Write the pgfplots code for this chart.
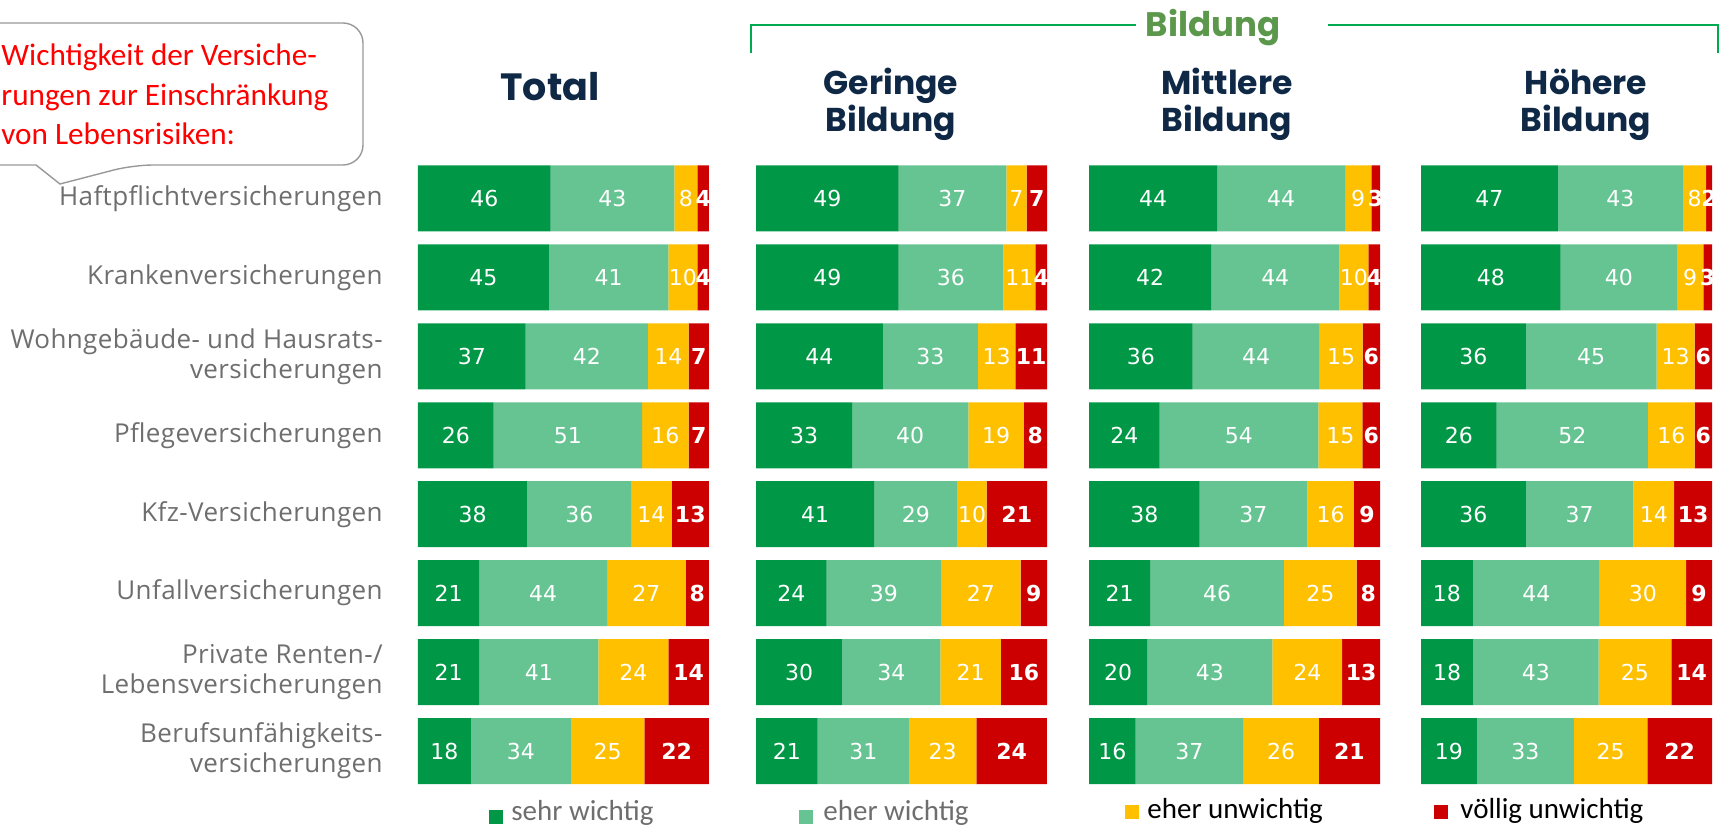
\documentclass[border=0pt]{standalone}
\usepackage{pgfplots}
\pgfplotsset{compat=1.18}
\usepackage{pgfplotstable}
\usepackage{fontspec}
\setmainfont{Open Sans}[LetterSpace=1.5]
\newfontfamily\numfont{DejaVu Sans}
\newfontfamily\titlefont{Poppins}
\newfontfamily\calfont{Carlito}
\definecolor{cA}{RGB}{0,152,70}
\definecolor{cB}{RGB}{102,196,146}
\definecolor{cC}{RGB}{255,192,0}
\definecolor{cD}{RGB}{204,0,0}
\definecolor{navy}{RGB}{14,40,70}
\definecolor{olive}{RGB}{92,152,76}
\definecolor{brk}{RGB}{0,170,80}
\definecolor{lbl}{RGB}{110,110,110}

\pgfplotstableread{
row a b c d
1 46 43 8 4
2 45 41 10 4
3 37 42 14 7
4 26 51 16 7
5 38 36 14 13
6 21 44 27 8
7 21 41 24 14
8 18 34 25 22
}\tTotal
\pgfplotstableread{
row a b c d
1 49 37 7 7
2 49 36 11 4
3 44 33 13 11
4 33 40 19 8
5 41 29 10 21
6 24 39 27 9
7 30 34 21 16
8 21 31 23 24
}\tGer
\pgfplotstableread{
row a b c d
1 44 44 9 3
2 42 44 10 4
3 36 44 15 6
4 24 54 15 6
5 38 37 16 9
6 21 46 25 8
7 20 43 24 13
8 16 37 26 21
}\tMit
\pgfplotstableread{
row a b c d
1 47 43 8 2
2 48 40 9 3
3 36 45 13 6
4 26 52 16 6
5 36 37 14 13
6 18 44 30 9
7 18 43 25 14
8 19 33 25 22
}\tHoe

\pgfplotsset{
  geom/.style={
    scale only axis, width=145.5pt, height=315.75pt,
    xmin=0, xmax=100, ymin=0.5, ymax=8.5, y dir=reverse,
    axis line style={draw=none},
    xtick=\empty, ytick=\empty, tick style={draw=none},
    anchor=south west,
  },
  panel/.style={geom, xbar stacked, bar width=33pt},
  lblaxis/.style={geom, clip=false,
    /pgf/number format/assume math mode=true},
  lbl/.style={draw=none, mark=none, nodes near coords, point meta=explicit,
    nodes near coords style={font=\numfont\fontsize{11}{13}\selectfont,
      text=white, anchor=center, inner sep=0pt}},
  lblbold/.style={lbl,
    nodes near coords style={font=\numfont\bfseries\fontsize{11}{13}\selectfont}},
}
% share of each answer in the row total (rows sum to 99-101 through rounding)
\newcommand\tot{(\thisrow{a}+\thisrow{b}+\thisrow{c}+\thisrow{d})}
\newcommand\bars[1]{%
  \addplot[fill=cA, draw=none] table[x expr={100*\thisrow{a}/\tot}, y=row]{#1};
  \addplot[fill=cB, draw=none] table[x expr={100*\thisrow{b}/\tot}, y=row]{#1};
  \addplot[fill=cC, draw=none] table[x expr={100*\thisrow{c}/\tot}, y=row]{#1};
  \addplot[fill=cD, draw=none] table[x expr={100*\thisrow{d}/\tot}, y=row]{#1};}
\newcommand\labels[1]{%
  \addplot[lbl] table[x expr={100*(\thisrow{a}/2)/\tot}, y=row, meta=a]{#1};
  \addplot[lbl] table[x expr={100*(\thisrow{a}+\thisrow{b}/2)/\tot}, y=row, meta=b]{#1};
  \addplot[lbl] table[x expr={100*(\thisrow{a}+\thisrow{b}+\thisrow{c}/2)/\tot}, y=row, meta=c]{#1};
  \addplot[lblbold] table[x expr={100*(\thisrow{a}+\thisrow{b}+\thisrow{c}+\thisrow{d}/2)/\tot}, y=row, meta=d]{#1};}

\begin{document}
\begin{tikzpicture}
\useasboundingbox (0,0) rectangle (860.5pt,413pt);

% callout
\begin{scope}
\clip (0,0) rectangle (860.5pt,413pt);
\draw[draw=gray!80, line width=0.7pt, fill=white, rounded corners=10pt]
  (-30pt,401.5pt) -- (181.5pt,401.5pt) -- (181.5pt,330.5pt)
  -- (66.5pt,330.5pt) [sharp corners] -- (30pt,321pt) -- (18pt,330.5pt)
  [rounded corners=10pt] -- (-30pt,330.5pt) -- cycle;
\end{scope}
\begin{scope}[every node/.style={anchor=base west, inner sep=0pt, text=red,
    font=\calfont\fontsize{15.6}{18}\selectfont}]
\node at (0.5pt,380pt) {Wichtigkeit der Versiche-};
\node at (0.5pt,360pt) {rungen zur Einschränkung};
\node at (0.5pt,340.5pt) {von Lebensrisiken:};
\end{scope}

% Bildung bracket
\draw[brk, line width=1pt] (375.5pt,386.5pt) -- (375.5pt,400.5pt) -- (568pt,400.5pt);
\draw[brk, line width=1pt] (664pt,400.5pt) -- (859pt,400.5pt) -- (859pt,386.5pt);
\node[anchor=base, inner sep=0pt, text=olive, font=\titlefont\bfseries\fontsize{17}{20}\selectfont]
  at (606.5pt,394.5pt) {Bildung};

% titles
\begin{scope}[every node/.style={anchor=base, inner sep=0pt, text=navy,
    font=\titlefont\bfseries\fontsize{16.5}{20}\selectfont}]
\node[font=\titlefont\bfseries\fontsize{19}{22}\selectfont] at (275pt,362.6pt) {Total};
\node at (445.5pt,365.5pt) {Geringe};
\node at (445.5pt,347pt) {Bildung};
\node at (613.5pt,365.5pt) {Mittlere};
\node at (613.5pt,347pt) {Bildung};
\node at (793pt,365.5pt) {Höhere};
\node at (793pt,347pt) {Bildung};
\end{scope}

% panels
\begin{axis}[panel, at={(209pt,17.75pt)},
  ytick={1,...,8},
  yticklabels={Haftpflichtversicherungen, Krankenversicherungen,
    {Wohngebäude- und Hausrats-\\versicherungen}, Pflegeversicherungen,
    Kfz-Versicherungen, Unfallversicherungen,
    {Private Renten-/\\Lebensversicherungen},
    {Berufsunfähigkeits-\\versicherungen}},
  yticklabel style={align=right, anchor=east, inner sep=0pt, text=lbl,
    font=\fontsize{13}{15}\selectfont, xshift=-17.5pt}]
\bars{\tTotal}
\end{axis}
\begin{axis}[lblaxis, at={(209pt,17.75pt)}]
\labels{\tTotal}
\end{axis}
\begin{axis}[panel, at={(378pt,17.75pt)}]
\bars{\tGer}
\end{axis}
\begin{axis}[lblaxis, at={(378pt,17.75pt)}]
\labels{\tGer}
\end{axis}
\begin{axis}[panel, at={(544.5pt,17.75pt)}]
\bars{\tMit}
\end{axis}
\begin{axis}[lblaxis, at={(544.5pt,17.75pt)}]
\labels{\tMit}
\end{axis}
\begin{axis}[panel, at={(710.5pt,17.75pt)}]
\bars{\tHoe}
\end{axis}
\begin{axis}[lblaxis, at={(710.5pt,17.75pt)}]
\labels{\tHoe}
\end{axis}

% legend
\begin{scope}[every node/.style={anchor=base west, inner sep=0pt,
    font=\calfont\fontsize{14.5}{17}\selectfont}]
\fill[cA] (244.5pt,1pt) rectangle (251.5pt,8pt);
\node[text=lbl] at (255.5pt,3pt) {sehr wichtig};
\fill[cB] (399.5pt,1pt) rectangle (406.5pt,8pt);
\node[text=lbl] at (411.5pt,3pt) {eher wichtig};
\fill[cC] (562.5pt,3.5pt) rectangle (569.5pt,10.5pt);
\node[text=black] at (573.5pt,4pt) {eher unwichtig};
\fill[cD] (717pt,3.5pt) rectangle (724pt,10.5pt);
\node[text=black] at (730pt,4pt) {völlig unwichtig};
\end{scope}
\end{tikzpicture}
\end{document}
